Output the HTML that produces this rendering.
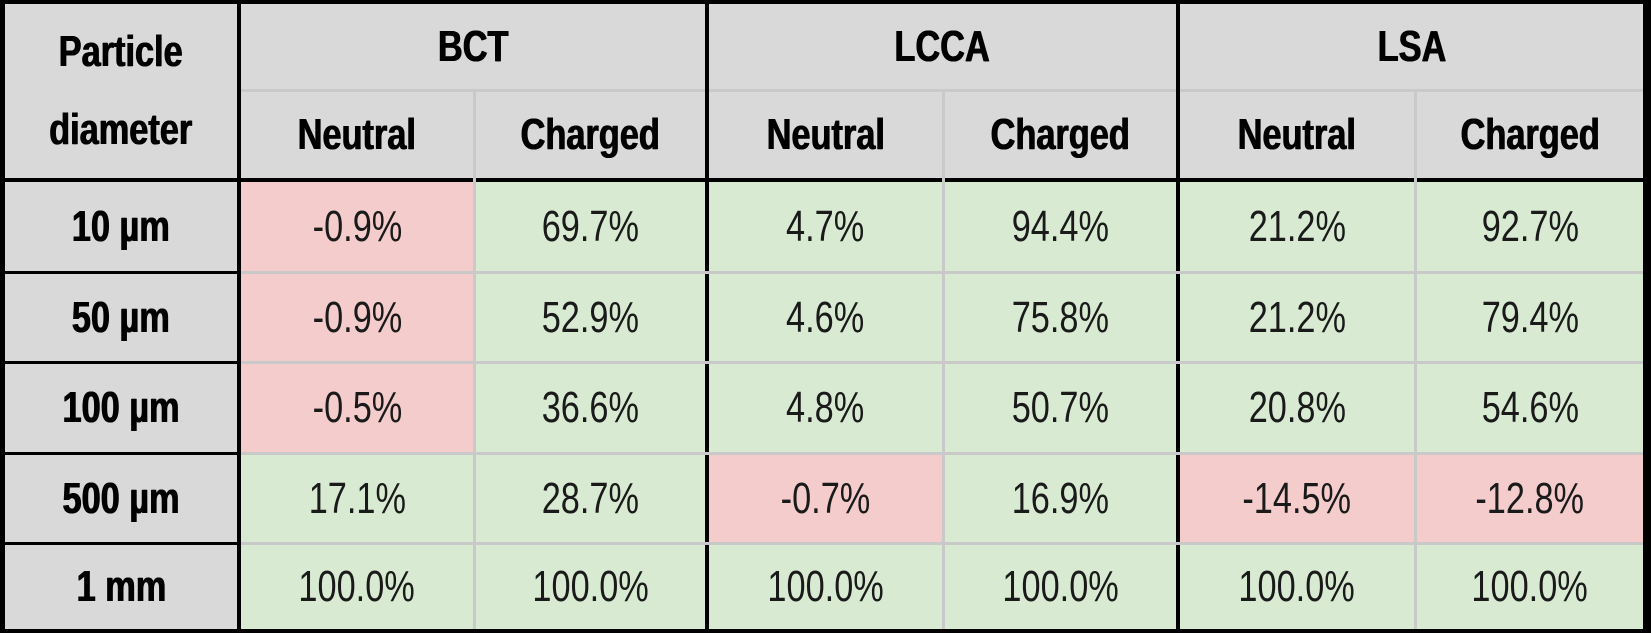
<!DOCTYPE html>
<html><head><meta charset="utf-8"><style>
html,body{margin:0;padding:0;width:1651px;height:633px;overflow:hidden;background:#000}
.c{position:absolute;display:flex;align-items:center;justify-content:center;font-family:"Liberation Sans",sans-serif;color:#1a1a1a;font-size:44px}
.c span{display:inline-block;transform:scaleX(0.78);white-space:nowrap}
.c span span{transform:none}
.h{background:#d9d9d9;font-weight:bold;color:#000;text-shadow:0.6px 0 0 #000,-0.6px 0 0 #000}
.g{background:#d9ead3}
.p{background:#f4cccc}
.l{position:absolute;background:#c9c9c9}
</style></head><body>
<div id="t" style="position:absolute;left:0;top:0;width:1651px;height:633px;background:#000"></div>
<script>
const xs=[5,241,474,709,943,1180,1415,1647];
const ys=[4,91,182,272,362,453,543,629];
const rowsL=["10 µm","50 µm","100 µm","500 µm","1 mm"];
const data=[["-0.9%","69.7%","4.7%","94.4%","21.2%","92.7%"],["-0.9%","52.9%","4.6%","75.8%","21.2%","79.4%"],["-0.5%","36.6%","4.8%","50.7%","20.8%","54.6%"],["17.1%","28.7%","-0.7%","16.9%","-14.5%","-12.8%"],["100.0%","100.0%","100.0%","100.0%","100.0%","100.0%"]];
const neg=v=>v.startsWith("-");
let h="";
function cell(x,y,w,hh,cls,txt){h+=`<div class="c ${cls}" style="left:${x}px;top:${y}px;width:${w}px;height:${hh}px"><span>${txt}</span></div>`;}
cell(5,4,232,174,"h","<span style='line-height:78px;text-align:center'>Particle<br>diameter</span>");
const grp=["BCT","LCCA","LSA"];
for(let g=0;g<3;g++){
 const x0=xs[1+2*g], x1=xs[3+2*g]-4;
 cell(x0,4,x1-x0,85,"h",grp[g]);
 for(let s=0;s<2;s++){
  const a=xs[1+2*g+s]+(s?2:0), b=xs[2+2*g+s]-(s?4:1);
  cell(a,92,b-a,86,"h",s?"Charged":"Neutral");
 }
}
for(let r=0;r<5;r++){
 const y0=ys[2+r]+(r?2:0), y1=ys[3+r]-(r==4?0:1);
 cell(5,y0,232,y1-y0,"h",rowsL[r]);
 for(let c=0;c<6;c++){
  const a=xs[1+c]+(c%2?2:0), b=xs[2+c]-(c%2?4:1);
  const v=data[r][c];
  h+=`<div class="c ${neg(v)?'p':'g'}" style="left:${a}px;top:${y0}px;width:${b-a}px;height:${y1-y0}px"><span>${v}</span></div>`;
 }
}
for(let g=0;g<3;g++){const a=xs[1+2*g],b=xs[3+2*g]-4;h+=`<div class="l" style="left:${a}px;top:89px;width:${b-a}px;height:3px"></div>`;}
for(let r=1;r<5;r++){h+=`<div class="l" style="left:241px;top:${ys[2+r]-1}px;width:1402px;height:3px"></div>`;}
for(let g=0;g<3;g++){h+=`<div class="l" style="left:${xs[2+2*g]-1}px;top:92px;width:3px;height:537px"></div>`;}
document.getElementById("t").innerHTML=h;
</script>
</body></html>
